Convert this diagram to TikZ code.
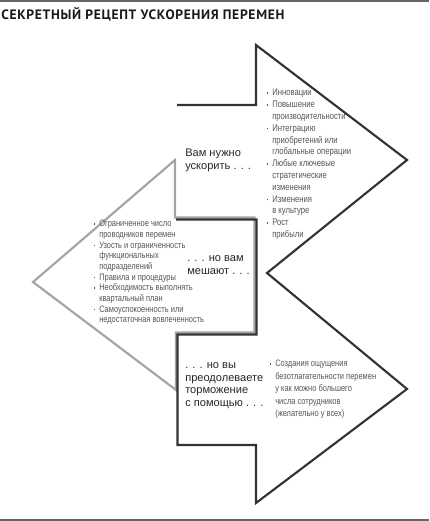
\documentclass[tikz,border=0pt]{standalone}
\usepackage{fontspec}
\setmainfont{Liberation Sans}
\newfontfamily\narrowfont[FakeStretch=0.8]{Liberation Sans}
\newfontfamily\titlefont[LetterSpace=5]{PT Sans Bold}
\usetikzlibrary{calc}

\definecolor{outline}{HTML}{333333}
\definecolor{shadowgray}{HTML}{A4A4A4}
\definecolor{itemgray}{HTML}{555555}
\newcommand{\bul}{\makebox[0pt][r]{\raisebox{0.35ex}{\rule{1.2pt}{1.2pt}}\hspace{3pt}}}

\begin{document}
\begin{tikzpicture}[x=0.75pt,y=-0.75pt,
  darkline/.style={draw=outline, line width=1.6pt, line join=miter},
  grayline/.style={draw=shadowgray, line width=1.6pt, line join=miter},
  rule/.style={draw=black!60, line width=1.4pt},
  bigtext/.style={font=\fontsize{8.3}{9.6}\selectfont, text=black!85, align=left, inner sep=0pt},
  itemlist/.style={font=\narrowfont\fontsize{7.2}{8.85}\selectfont, text=itemgray, align=left, inner sep=0pt}]
\useasboundingbox (0,0) rectangle (429,521);
\draw[rule] (0,1)--(429,1);
\draw[rule] (0,520)--(429,520);
\node[anchor=west, inner sep=0pt, text=black!90, font=\titlefont\fontsize{10.2}{12}\selectfont] (title) at (1,14.5) {СЕКРЕТНЫЙ РЕЦЕПТ УСКОРЕНИЯ ПЕРЕМЕН};
% corners of the two dark arrows
\coordinate (T1) at (177,105);
\coordinate (T2) at (256,105);
\coordinate (T3) at (256,45);
\coordinate (Ttip) at (407,160);
\coordinate (notch) at (267,273);
\coordinate (Btip) at (407,389);
\coordinate (B1) at (256,503);
\coordinate (B2) at (256,445);
\coordinate (B3) at (177.5,445);
\coordinate (B4) at (177.5,334.5);
\coordinate (M1) at (256.5,334.5);
\coordinate (M2) at (256.5,219.5);
\coordinate (M3) at (176,219.5);
% corners of the gray arrow
\coordinate (G1) at (175,160);
\coordinate (G2) at (175,217.5);
\coordinate (G3) at (254.5,217.5);
\coordinate (G4) at (254.5,332.5);
\coordinate (G5) at (176,332.5);
\coordinate (G6) at (176,390);
\coordinate (Gtip) at (33,282);
\draw[grayline] (G1)--(G2)--(G3)--(G4)--(G5)--(G6)--(Gtip)--cycle;
\draw[darkline] (T1)--(T2)--(T3)--(Ttip)--(notch)--(Btip)--(B1)--(B2)--(B3)--(B4)--(M1)--(M2)--(M3);
% texts
\node[bigtext, anchor=north west] (need) at (185,149) {Вам нужно\\ускорить . . .};
\node[bigtext, anchor=north west] (hinder) at (187,255) {. . . но вам\\мешают . . .};
\node[bigtext, anchor=north west] (overcome) at (185,362) {. . . но вы\\преодолеваете\\торможение\\с помощью . . .};
\node[itemlist, anchor=north west] (goals) at (272,89) {\bul Инновации\\\bul Повышение\\производительности\\\bul Интеграцию\\приобретений или\\глобальные операции\\\bul Любые ключевые\\стратегические\\изменения\\\bul Изменения\\в культуре\\\bul Рост\\прибыли};
\node[itemlist, anchor=north west, font=\narrowfont\fontsize{7}{8.0}\selectfont] (barriers) at (99,220) {\bul Ограниченное число\\проводников перемен\\\bul Узость и ограниченность\\функциональных\\подразделений\\\bul Правила и процедуры\\\bul Необходимость выполнять\\квартальный план\\\bul Самоуспокоенность или\\недостаточная вовлеченность};
\node[itemlist, anchor=north west, font=\narrowfont\fontsize{7}{9.4}\selectfont] (urgency) at (275,360) {\bul Создания ощущения\\безотлагательности перемен\\у как можно большего\\числа сотрудников\\(желательно у всех)};
\end{tikzpicture}
\end{document}
